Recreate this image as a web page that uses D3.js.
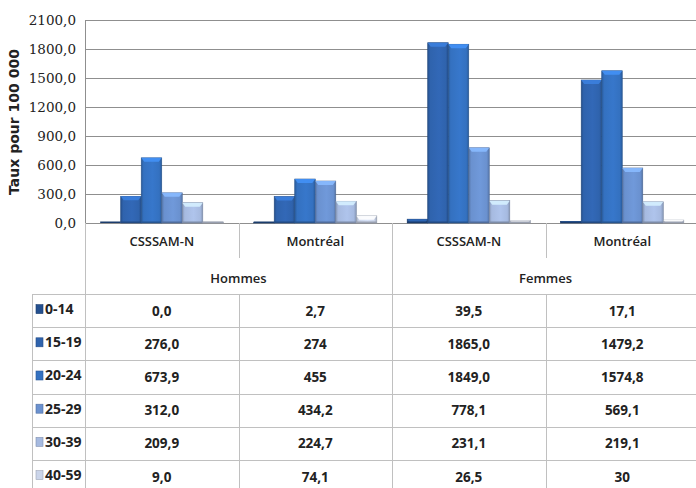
<!DOCTYPE html>
<html>
<head>
<meta charset="utf-8">
<script src="https://cdn.jsdelivr.net/npm/d3@7/dist/d3.min.js"></script>
<style>
  body { margin: 0; background: #fff; }
  svg { display: block; }
</style>
</head>
<body>
<div id="mainchart"></div>
<script>
var categories = ["CSSSAM-N", "Montréal", "CSSSAM-N", "Montréal"];
var groups = ["Hommes", "Femmes"];
var series = ["0-14", "15-19", "20-24", "25-29", "30-39", "40-59"];
var yTicks = [0, 300, 600, 900, 1200, 1500, 1800, 2100];

var v0_14  = [0.0, 2.7, 39.5, 17.1];
var v15_19 = [276.0, 274, 1865.0, 1479.2];
var v20_24 = [673.9, 455, 1849.0, 1574.8];
var v25_29 = [312.0, 434.2, 778.1, 569.1];
var v30_39 = [209.9, 224.7, 231.1, 219.1];
var v40_59 = [9.0, 74.1, 26.5, 30];

// the table shows the numbers as written in the source
var t0_14  = ["0,0", "2,7", "39,5", "17,1"];
var t15_19 = ["276,0", "274", "1865,0", "1479,2"];
var t20_24 = ["673,9", "455", "1849,0", "1574,8"];
var t25_29 = ["312,0", "434,2", "778,1", "569,1"];
var t30_39 = ["209,9", "224,7", "231,1", "219,1"];
var t40_59 = ["9,0", "74,1", "26,5", "30"];

var values = [v0_14, v15_19, v20_24, v25_29, v30_39, v40_59];
var texts = [t0_14, t15_19, t20_24, t25_29, t30_39, t40_59];
var colors = ["#24508f", "#2f63ad", "#3471c0", "#6a91cf", "#a6bae0", "#cbd5ea"];

var W = 696, H = 488;
var plotLeft = 85, plotRight = 699, plotTop = 20, plotBottom = 223;
var tableLeft = 32, rowTop = 294, rowH = 33.2;
var txtFont = "'Open Sans', sans-serif";

var svg = d3.select("#mainchart").append("svg")
  .attr("width", W).attr("height", H);

var x0 = d3.scaleBand().domain(d3.range(categories.length)).range([plotLeft, plotRight]).padding(0);
var x1 = d3.scaleBand().domain(series).range([0, x0.bandwidth()]).paddingInner(0).paddingOuter(0.74);
var y = d3.scaleLinear().domain([0, 2100]).range([plotBottom, plotTop]);
var xg = d3.scaleBand().domain(groups).range([plotLeft, plotRight]).padding(0);

var gridColor = "#8f8f8f", tableColor = "#c0c0c0";
var defs = svg.append("defs");

colors.forEach(function(c, i) {
  var g = defs.append("linearGradient").attr("id", "barGrad_" + i)
    .attr("x1", "0%").attr("x2", "100%").attr("y1", "0%").attr("y2", "0%");
  var dark = d3.color(c).darker(0.6), light = d3.color(c).brighter(0.15);
  g.append("stop").attr("offset", "0%").attr("stop-color", dark);
  g.append("stop").attr("offset", "12%").attr("stop-color", c);
  g.append("stop").attr("offset", "55%").attr("stop-color", light);
  g.append("stop").attr("offset", "88%").attr("stop-color", c);
  g.append("stop").attr("offset", "100%").attr("stop-color", dark);
});

// gridlines
svg.append("g").selectAll("line").data(yTicks).enter().append("line")
  .attr("x1", plotLeft).attr("x2", W)
  .attr("y1", function(d) { return Math.round(y(d)) + 0.5; })
  .attr("y2", function(d) { return Math.round(y(d)) + 0.5; })
  .attr("stroke", gridColor).attr("stroke-width", 1);

// y axis
var yAxis = d3.axisLeft(y).tickValues(yTicks).tickSize(0).tickPadding(9)
  .tickFormat(function(d) { return d3.format(".1f")(d).replace(".", ","); });
var ya = svg.append("g").attr("class", "y axis")
  .attr("transform", "translate(" + plotLeft + ",0)").call(yAxis);
ya.attr("font-family", null).attr("font-size", null);
ya.select(".domain").attr("stroke", gridColor);
ya.selectAll("text").style("font-family", "'DejaVu Serif', serif")
  .style("font-size", "13.5px").attr("fill", "#222");

svg.append("text")
  .attr("transform", "translate(19," + 122 + ") rotate(-90)")
  .attr("text-anchor", "middle")
  .style("font-family", "'DejaVu Sans', Verdana, sans-serif")
  .style("font-weight", "bold").style("font-size", "14px").attr("fill", "#222")
  .text("Taux pour 100 000");

// bars
var bars = svg.append("g");
series.forEach(function(s, si) {
  values[si].forEach(function(v, ci) {
    var bx = x0(ci) + x1(s), bw = x1.bandwidth();
    var by = y(v), bh = plotBottom - y(v);
    var g = bars.append("g");
    g.append("rect")
      .attr("x", bx).attr("y", by).attr("width", bw).attr("height", Math.max(bh, 0))
      .attr("fill", "url(#barGrad_" + si + ")")
      .attr("stroke", d3.color(colors[si]).darker(0.9)).attr("stroke-width", 0.6);
    // bevelled top edge
    var bev = Math.min(4, bh);
    g.append("path")
      .attr("d", "M" + bx + "," + by + "L" + (bx + bw) + "," + by +
        "L" + (bx + bw - 3) + "," + (by + bev) + "L" + (bx + 3) + "," + (by + bev) + "Z")
      .attr("fill", d3.color(colors[si]).brighter(0.7)).attr("opacity", 0.9);
    // bottom edge shadow
    g.append("rect")
      .attr("x", bx).attr("y", plotBottom - 1.5).attr("width", bw).attr("height", 1.5)
      .attr("fill", d3.color(colors[si]).darker(0.8));
  });
});

// header of table: category labels and group labels
svg.append("g").selectAll("text").data(categories).enter().append("text")
  .attr("x", function(d, i) { return x0(i) + x0.bandwidth() / 2; })
  .attr("y", 246)
  .attr("text-anchor", "middle")
  .style("font-family", txtFont).style("font-weight", 600)
  .style("font-size", "13px").attr("fill", "#222")
  .text(function(d) { return d; });

svg.append("g").selectAll("text").data(groups).enter().append("text")
  .attr("x", function(d) { return xg(d) + xg.bandwidth() / 2; })
  .attr("y", 283)
  .attr("text-anchor", "middle")
  .style("font-family", txtFont).style("font-weight", 600)
  .style("font-size", "13px").attr("fill", "#222")
  .text(function(d) { return d; });

var lines = svg.append("g").attr("stroke", tableColor).attr("stroke-width", 1);
// left border of header
lines.append("line").attr("x1", plotLeft + 0.5).attr("x2", plotLeft + 0.5)
  .attr("y1", plotBottom).attr("y2", H);
// separators between categories inside groups
[1, 3].forEach(function(ci) {
  var xx = Math.round(x0(ci)) + 0.5;
  lines.append("line").attr("x1", xx).attr("x2", xx).attr("y1", plotBottom).attr("y2", 258);
  lines.append("line").attr("x1", xx).attr("x2", xx).attr("y1", rowTop).attr("y2", H);
});
// separator between groups
var gx = Math.round(xg("Femmes")) + 0.5;
lines.append("line").attr("x1", gx).attr("x2", gx).attr("y1", plotBottom).attr("y2", H);
// legend column left border
lines.append("line").attr("x1", tableLeft + 0.5).attr("x2", tableLeft + 0.5)
  .attr("y1", rowTop).attr("y2", H);
// row lines
d3.range(series.length + 1).forEach(function(r) {
  var yy = Math.round(rowTop + r * rowH) + 0.5;
  lines.append("line").attr("x1", tableLeft).attr("x2", W).attr("y1", yy).attr("y2", yy);
});

// table rows
var rows = svg.append("g").selectAll("g.row").data(series).enter().append("g")
  .attr("class", "row")
  .attr("transform", function(d, i) { return "translate(0," + (rowTop + i * rowH) + ")"; });

rows.append("rect")
  .attr("x", 36).attr("y", rowH / 2 - 6).attr("width", 7).attr("height", 9)
  .attr("fill", function(d, i) { return colors[i]; })
  .attr("stroke", function(d, i) { return d3.color(colors[i]).darker(0.7); })
  .attr("stroke-width", 0.6);

rows.append("text")
  .attr("x", 45).attr("y", rowH / 2 + 3.5)
  .style("font-family", txtFont).style("font-weight", 700)
  .style("font-size", "14px").attr("fill", "#222")
  .text(function(d) { return d; });

rows.each(function(d, si) {
  d3.select(this).selectAll("text.val").data(texts[si]).enter().append("text")
    .attr("class", "val")
    .attr("x", function(t, ci) { return x0(ci) + x0.bandwidth() / 2; })
    .attr("y", rowH / 2 + 5)
    .attr("text-anchor", "middle")
    .style("font-family", txtFont).style("font-weight", 700)
    .style("font-size", "13.5px").attr("fill", "#222")
    .text(function(t) { return t; });
});
</script>
</body>
</html>
